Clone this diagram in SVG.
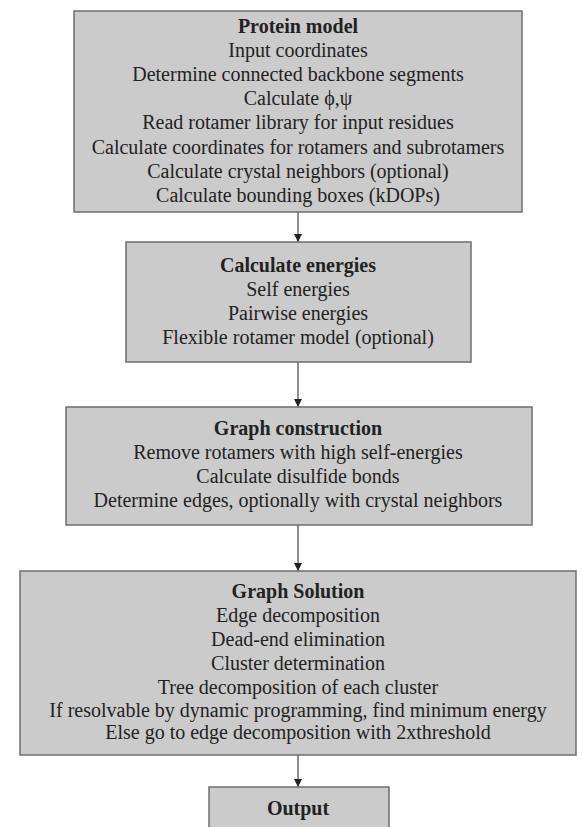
<svg xmlns="http://www.w3.org/2000/svg" width="582" height="827" viewBox="0 0 582 827">
<defs>
<style>
.box{fill:#cbcbcb;stroke:#6e6e6e;stroke-width:1.5}
text{font-family:"Liberation Serif","Times New Roman",serif;font-size:20px;fill:#222;text-anchor:middle}
.t{font-weight:bold}
.c{stroke:#555;stroke-width:1.3;fill:none}
</style>
<marker id="ah" markerWidth="10" markerHeight="10" refX="9" refY="5" orient="auto" markerUnits="userSpaceOnUse">
<path d="M1,1 L9,5 L1,9 Z" fill="#222"/>
</marker>
</defs>
<rect width="582" height="827" fill="#fff"/>
<g id="connectors">
<line class="c" x1="298" y1="212" x2="298" y2="242" marker-end="url(#ah)"/>
<line class="c" x1="298" y1="362" x2="298" y2="407" marker-end="url(#ah)"/>
<line class="c" x1="298" y1="525" x2="298" y2="571" marker-end="url(#ah)"/>
<line class="c" x1="298" y1="755" x2="298" y2="787" marker-end="url(#ah)"/>
</g>
<g id="protein-model">
<rect class="box" x="74" y="11" width="448" height="201"/>
<text class="t" x="298" y="33">Protein model</text>
<text x="298" y="57">Input coordinates</text>
<text x="298" y="81">Determine connected backbone segments</text>
<text x="298" y="105">Calculate ϕ,ψ</text>
<text x="298" y="129">Read rotamer library for input residues</text>
<text x="298" y="154">Calculate coordinates for rotamers and subrotamers</text>
<text x="298" y="178">Calculate crystal neighbors (optional)</text>
<text x="298" y="202">Calculate bounding boxes (kDOPs)</text>
</g>
<g id="calculate-energies">
<rect class="box" x="126" y="242" width="345" height="120"/>
<text class="t" x="298" y="272">Calculate energies</text>
<text x="298" y="296">Self energies</text>
<text x="298" y="320">Pairwise energies</text>
<text x="298" y="344">Flexible rotamer model (optional)</text>
</g>
<g id="graph-construction">
<rect class="box" x="66" y="407" width="466" height="118"/>
<text class="t" x="298" y="435">Graph construction</text>
<text x="298" y="459">Remove rotamers with high self-energies</text>
<text x="298" y="483">Calculate disulfide bonds</text>
<text x="298" y="507">Determine edges, optionally with crystal neighbors</text>
</g>
<g id="graph-solution">
<rect class="box" x="20" y="571" width="556" height="184"/>
<text class="t" x="298" y="598">Graph Solution</text>
<text x="298" y="622">Edge decomposition</text>
<text x="298" y="646">Dead-end elimination</text>
<text x="298" y="670">Cluster determination</text>
<text x="298" y="694">Tree decomposition of each cluster</text>
<text x="298" y="717">If resolvable by dynamic programming, find minimum energy</text>
<text x="298" y="739">Else go to edge decomposition with 2xthreshold</text>
</g>
<g id="output">
<rect class="box" x="209" y="787" width="180" height="60"/>
<text class="t" x="298" y="815">Output</text>
</g>
</svg>
